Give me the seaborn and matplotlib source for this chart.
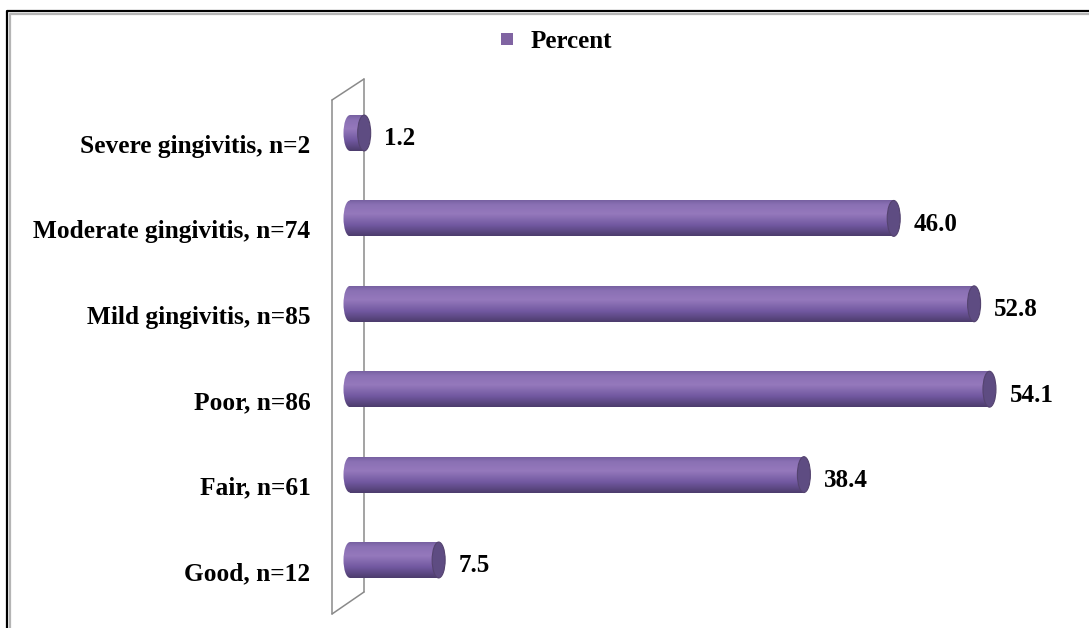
import numpy as np
import pandas as pd
import matplotlib.pyplot as plt
import matplotlib.transforms as mtransforms
from matplotlib.colors import LinearSegmentedColormap
from matplotlib.patches import Ellipse, Rectangle
from matplotlib.lines import Line2D
import seaborn as sns

# Data
categories = [
    "Severe gingivitis, n=2",
    "Moderate gingivitis, n=74",
    "Mild gingivitis, n=85",
    "Poor, n=86",
    "Fair, n=61",
    "Good, n=12",
]
percent = [1.2, 46.0, 52.8, 54.1, 38.4, 7.5]
labels = ["1.2", "46.0", "52.8", "54.1", "38.4", "7.5"]

df = pd.DataFrame({"category": categories, "Percent": percent})

sns.set_style("white")
plt.rcParams['font.family'] = ['Liberation Serif', 'DejaVu Serif']
plt.rcParams['font.weight'] = 'bold'
plt.rcParams['text.color'] = 'black'
plt.rcParams['ytick.color'] = 'black'
plt.rcParams['ytick.labelcolor'] = 'black'

W, H = 1089, 628
fig = plt.figure(figsize=(W / 100, H / 100), dpi=100)

# axes placed in pixel terms
L, R, T, B = 330, 1080, 70, 620
ax = fig.add_axes([L / W, (H - B) / H, (R - L) / W, (B - T) / H])

purple = "#8064A2"
bar_h = 0.42

sns.barplot(data=df, x="Percent", y="category", orient="h",
            color=purple, width=bar_h, ax=ax, zorder=3)

px_per_unit = 11.82
x0 = -(350 - L) / px_per_unit
x1 = (R - 350) / px_per_unit
y_top = -(133 - T) / 85.4
y_bot = 5 + (B - 560) / 85.4

# cylinder shading
grad_cmap = LinearSegmentedColormap.from_list(
    "cyl", [(0.0, "#7660A0"), (0.12, "#8A70B4"), (0.38, "#9579BC"),
            (0.7, "#7158A0"), (1.0, "#4C3C6C")])
grad = np.linspace(0, 1, 256).reshape(-1, 1)
cap_w = 13 / px_per_unit

for p in ax.patches:
    bx, by = p.get_x(), p.get_y()
    bw, bh = p.get_width(), p.get_height()
    p.set_facecolor("none")
    p.set_edgecolor("none")
    yc = by + bh / 2
    left_end = Ellipse((bx, yc), cap_w, bh, facecolor="none",
                       edgecolor="none", zorder=3)
    ax.add_patch(left_end)
    for clip in (p, left_end):
        im = ax.imshow(grad, cmap=grad_cmap, aspect="auto",
                       extent=[bx - cap_w, bx + bw, by + bh, by],
                       zorder=3, interpolation="bilinear")
        im.set_clip_path(clip)
    cap = Ellipse((bx + bw, yc), cap_w, bh, facecolor="#5E4C82",
                  edgecolor="#54436F", linewidth=0.8, zorder=4)
    ax.add_patch(cap)

# value labels
for i, (v, t) in enumerate(zip(percent, labels)):
    ax.text(v + 1.7, i + 0.07, t, ha="left", va="center",
            fontsize=18, fontweight="bold", color="black", zorder=5)

# back wall of the 3D chart
wx_back = (332 - 350) / px_per_unit
wx_front = (364 - 350) / px_per_unit
wall = dict(color="#8a8a8a", linewidth=1.1, zorder=1, clip_on=False)
ax.plot([wx_back, wx_back], [-(133 - 100) / 85.4, 5 + 54 / 85.4], **wall)
ax.plot([wx_front, wx_front], [-(133 - 79) / 85.4, 5 + 32 / 85.4], **wall)
ax.plot([wx_back, wx_front], [-(133 - 100) / 85.4, -(133 - 79) / 85.4], **wall)
ax.plot([wx_back, wx_front], [5 + 54 / 85.4, 5 + 32 / 85.4], **wall)

ax.set_xlim(x0, x1)
ax.set_ylim(y_bot, y_top)
ax.set_xlabel("")
ax.set_ylabel("")
ax.set_xticks([])
ax.tick_params(axis="y", length=0, pad=14, labelcolor="black")
for lab in ax.get_yticklabels():
    lab.set_fontsize(18.3)
    lab.set_fontweight("bold")
    lab.set_color("black")
    lab.set_transform(lab.get_transform() +
                      mtransforms.ScaledTranslation(0, -11 / 100, fig.dpi_scale_trans))
sns.despine(ax=ax, left=True, bottom=True)

# legend
fig.patches.append(Rectangle((501 / W, 1 - 45 / H), 12 / W, 12 / H,
                             transform=fig.transFigure, facecolor=purple,
                             edgecolor="none", figure=fig))
fig.text(531 / W, 1 - 41 / H, "Percent", ha="left", va="center",
         fontsize=18, fontweight="bold", color="black")

# outer frame
fig.add_artist(Line2D([7 / W, 7 / W, 1.01], [-0.01, 1 - 11 / H, 1 - 11 / H],
                      transform=fig.transFigure, color="black", linewidth=1.6))
fig.add_artist(Line2D([9.5 / W, 9.5 / W, 1.01], [-0.01, 1 - 13.5 / H, 1 - 13.5 / H],
                      transform=fig.transFigure, color="#b5b5b5", linewidth=1.6))

plt.savefig("out.png", dpi=100)
